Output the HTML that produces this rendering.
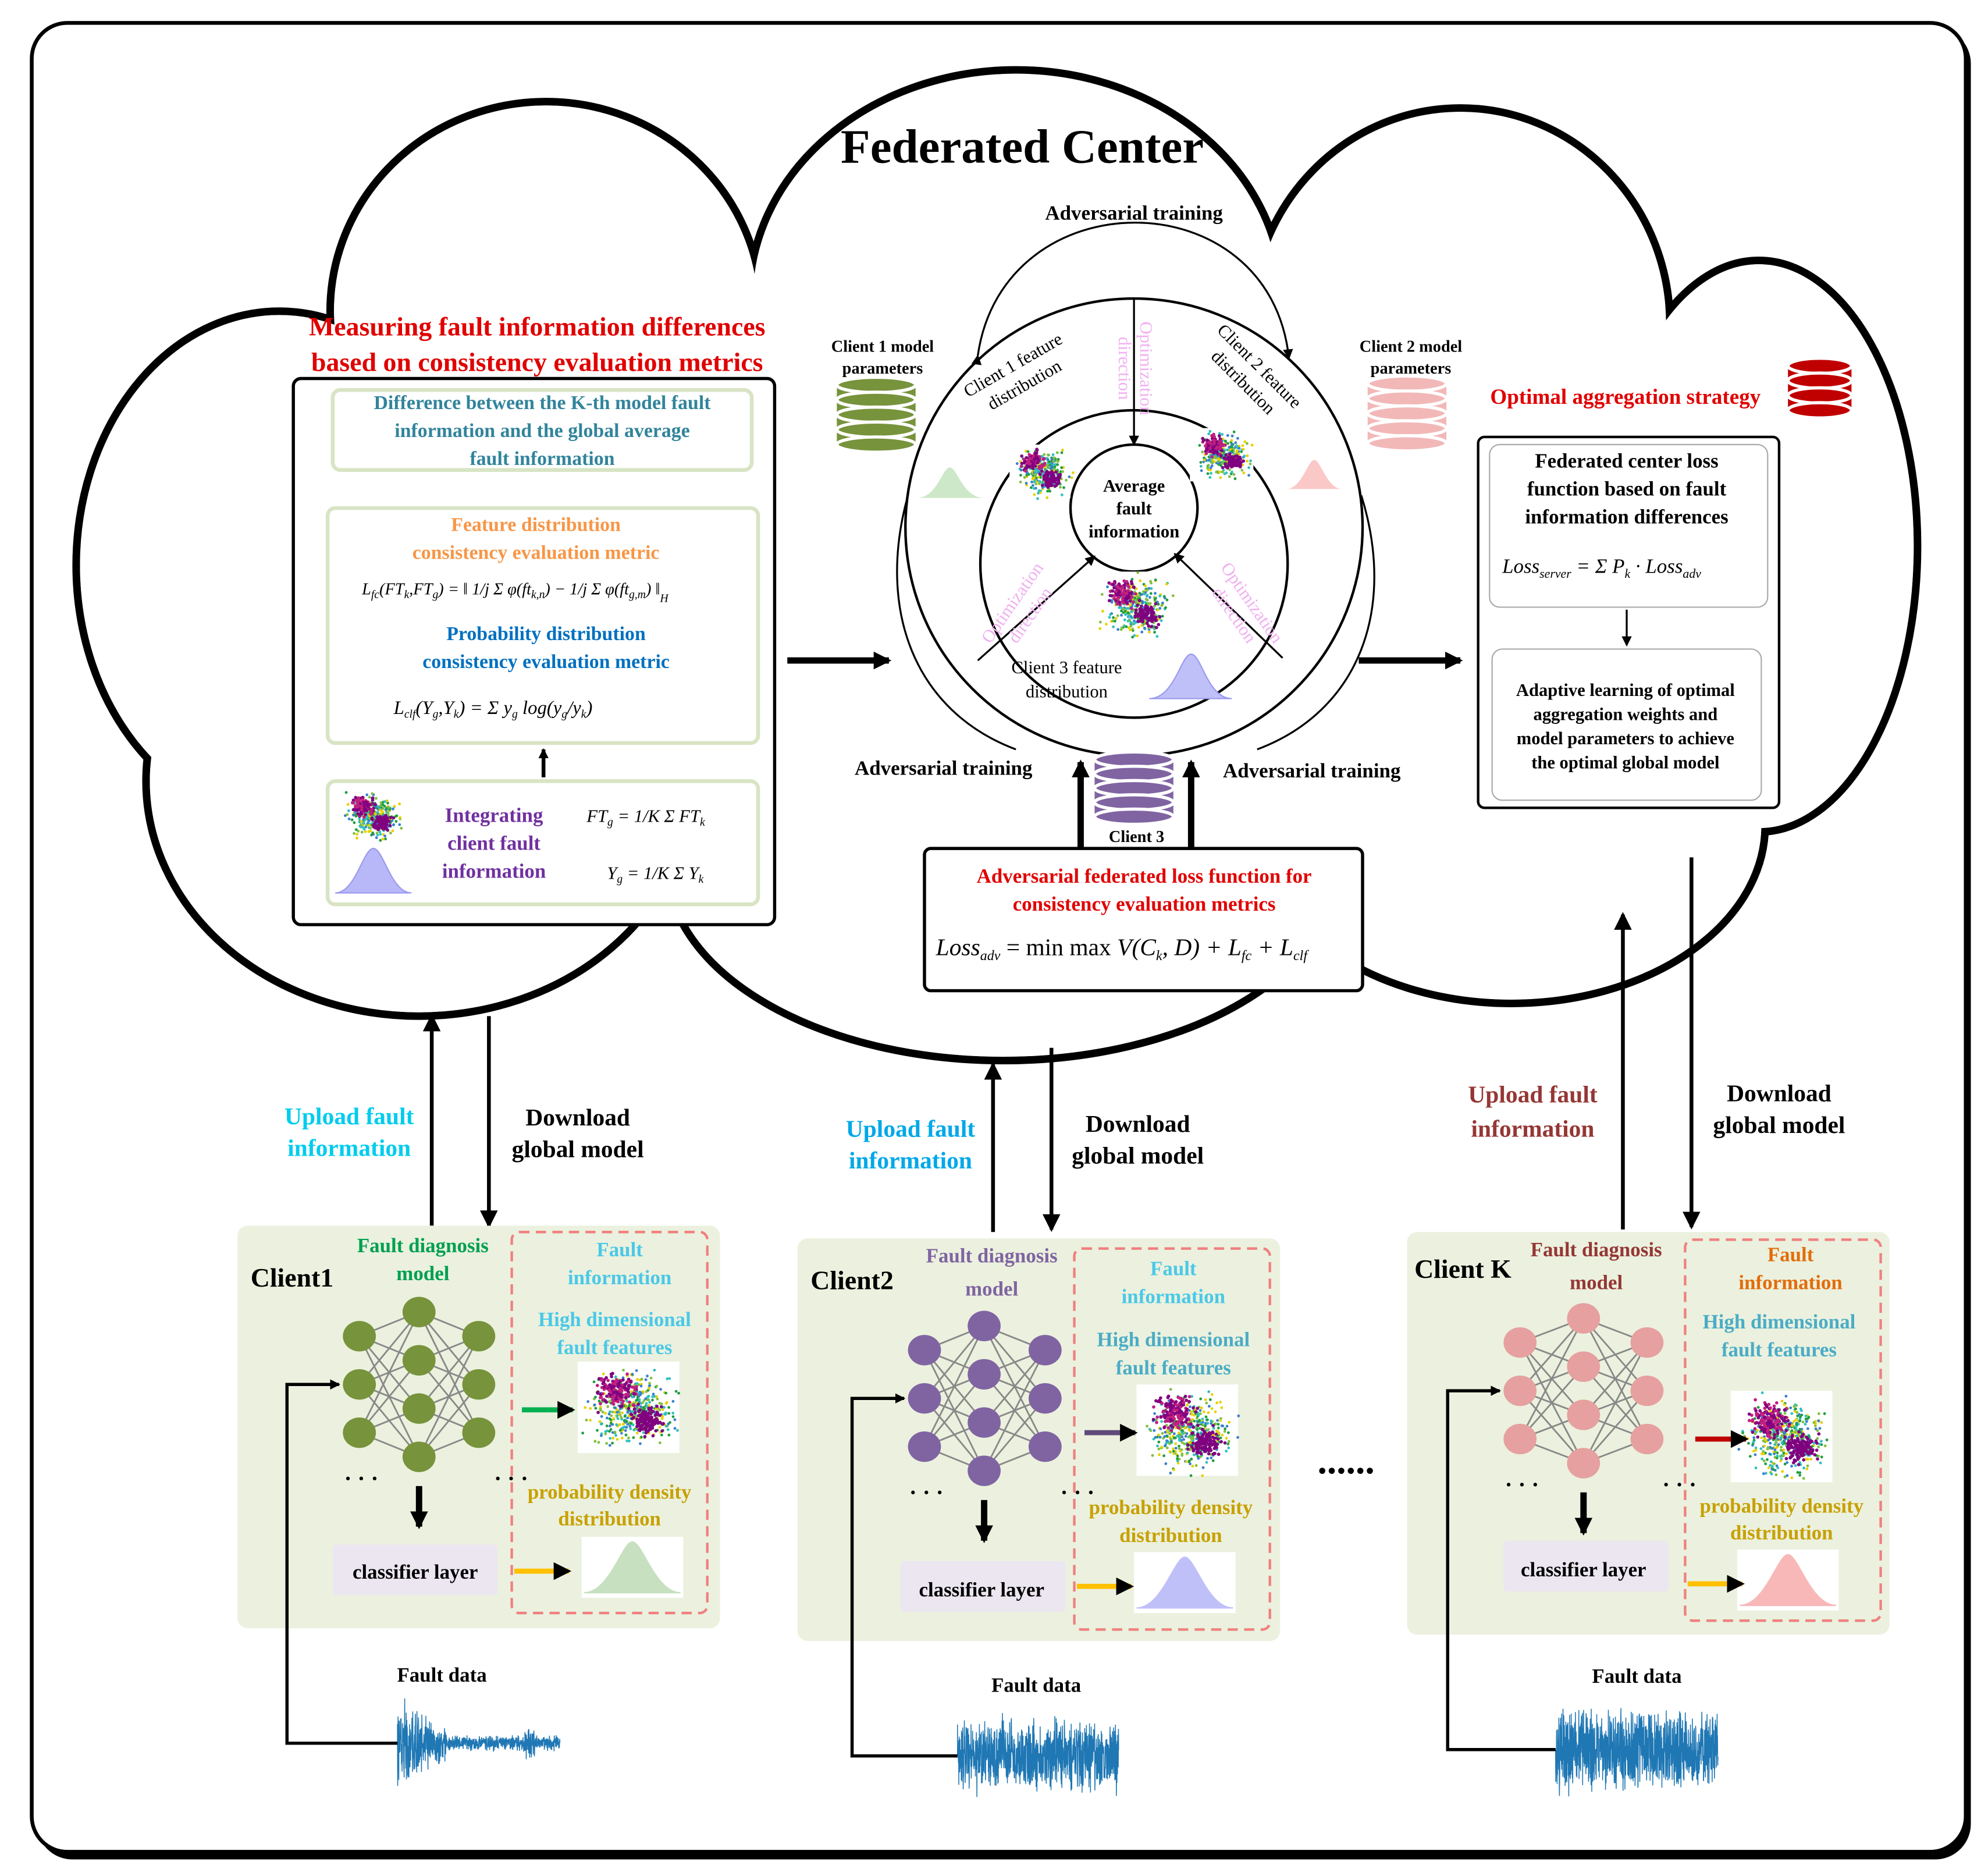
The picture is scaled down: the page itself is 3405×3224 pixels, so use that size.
<!DOCTYPE html>
<html><head><meta charset="utf-8">
<style>
html,body{margin:0;padding:0;background:#fff}
svg{display:block}
text{font-family:"Liberation Serif",serif;font-weight:bold}
.it{font-style:italic;font-weight:normal}
.n{font-weight:normal}
</style></head>
<body>
<svg id="s" width="3405" height="3224" viewBox="0 0 1560 1477" xmlns="http://www.w3.org/2000/svg">
<defs>
<marker id="ah" markerWidth="8" markerHeight="8" refX="7" refY="4" orient="auto" markerUnits="userSpaceOnUse"><path d="M0,0 L8,4 L0,8 z" fill="#000"/></marker>
<marker id="ahb" markerWidth="14" markerHeight="14" refX="12" refY="7" orient="auto" markerUnits="userSpaceOnUse"><path d="M0,0 L14,7 L0,14 z" fill="#000"/></marker>
</defs>
<rect x="29" y="22" width="1523" height="1442" rx="28" fill="#000"/>
<rect x="25" y="18" width="1523" height="1440" rx="28" fill="#fff" stroke="#000" stroke-width="3"/>

<g id="cloud"></g>

<text x="805" y="128" font-size="38" text-anchor="middle">Federated Center</text>

<text x="423" y="264" font-size="21" fill="#e00000" text-anchor="middle">Measuring fault information differences</text>
<text x="423" y="292" font-size="21" fill="#e00000" text-anchor="middle">based on consistency evaluation metrics</text>
<rect x="231" y="298" width="379" height="430" rx="6" fill="#fff" stroke="#000" stroke-width="2.5"/>
<rect x="262" y="307" width="330" height="63" rx="6" fill="#fff" stroke="#d8e4c4" stroke-width="3"/>
<text font-size="15.5" fill="#31849b" text-anchor="middle"><tspan x="427" y="322">Difference between the K-th model fault</tspan><tspan x="427" y="344">information and the global average</tspan><tspan x="427" y="366">fault information</tspan></text>
<rect x="258" y="400" width="339" height="185" rx="6" fill="#fff" stroke="#d8e4c4" stroke-width="3"/>
<text font-size="15.5" fill="#f79646" text-anchor="middle"><tspan x="422" y="418">Feature distribution</tspan><tspan x="422" y="440">consistency evaluation metric</tspan></text>
<text x="285" y="468" font-size="13" class="it">L<tspan font-size="9" dy="3">fc</tspan><tspan dy="-3">(FT</tspan><tspan font-size="9" dy="3">k</tspan><tspan dy="-3">,FT</tspan><tspan font-size="9" dy="3">g</tspan><tspan dy="-3">) = ‖ 1/j Σ φ(ft</tspan><tspan font-size="9" dy="3">k,n</tspan><tspan dy="-3">) − 1/j Σ φ(ft</tspan><tspan font-size="9" dy="3">g,m</tspan><tspan dy="-3">) ‖</tspan><tspan font-size="9" dy="6">H</tspan></text>
<text font-size="15.5" fill="#0070c0" text-anchor="middle"><tspan x="430" y="504">Probability distribution</tspan><tspan x="430" y="526">consistency evaluation metric</tspan></text>
<text x="310" y="562" font-size="15" class="it">L<tspan font-size="9" dy="3">clf</tspan><tspan dy="-3">(Y</tspan><tspan font-size="9" dy="3">g</tspan><tspan dy="-3">,Y</tspan><tspan font-size="9" dy="3">k</tspan><tspan dy="-3">) = Σ y</tspan><tspan font-size="9" dy="3">g</tspan><tspan dy="-3"> log(y</tspan><tspan font-size="9" dy="3">g</tspan><tspan dy="-3">/y</tspan><tspan font-size="9" dy="3">k</tspan><tspan dy="-3">)</tspan></text>
<line x1="428" y1="612" x2="428" y2="590" stroke="#000" stroke-width="3" marker-end="url(#ah)"/>
<rect x="258" y="615" width="339" height="97" rx="6" fill="#fff" stroke="#d8e4c4" stroke-width="3"/>
<text font-size="16" fill="#7030a0" text-anchor="middle"><tspan x="389" y="647">Integrating</tspan><tspan x="389" y="669">client fault</tspan><tspan x="389" y="691">information</tspan></text>
<text x="462" y="647" font-size="14" class="it">FT<tspan font-size="9" dy="3">g</tspan><tspan dy="-3"> = 1/K Σ FT</tspan><tspan font-size="9" dy="3">k</tspan></text>
<text x="478" y="692" font-size="14" class="it">Y<tspan font-size="9" dy="3">g</tspan><tspan dy="-3"> = 1/K Σ Y</tspan><tspan font-size="9" dy="3">k</tspan></text>
<g id="sc0"></g>
<path d="M264,703 C280,703 286,668 294,668 C302,668 308,703 324,703 Z" fill="#b8b8f8" stroke="#9a9af0"/>

<text x="893" y="173" font-size="16" text-anchor="middle">Adversarial training</text>
<path d="M770,280 C790,140 1000,140 1015,282" fill="none" stroke="#000" stroke-width="1.5" marker-start="url(#ah)" marker-end="url(#ah)"/>
<circle cx="893" cy="415" r="180" fill="none" stroke="#000" stroke-width="2"/>
<path d="M715,390 C690,480 720,560 800,590" fill="none" stroke="#000" stroke-width="1.5"/>
<path d="M1072,390 C1100,480 1070,560 990,590" fill="none" stroke="#000" stroke-width="1.5"/>
<circle cx="893" cy="444" r="121" fill="none" stroke="#000" stroke-width="2"/>
<circle cx="893" cy="400" r="50" fill="#fff" stroke="#000" stroke-width="2"/>
<text font-size="14" text-anchor="middle"><tspan x="893" y="387">Average</tspan><tspan x="893" y="405">fault</tspan><tspan x="893" y="423">information</tspan></text>
<line x1="893" y1="235" x2="893" y2="350" stroke="#000" stroke-width="1.5" marker-end="url(#ah)"/>
<line x1="770" y1="520" x2="862" y2="438" stroke="#000" stroke-width="1.5" marker-end="url(#ah)"/>
<line x1="1010" y1="518" x2="925" y2="436" stroke="#000" stroke-width="1.5" marker-end="url(#ah)"/>
<text font-size="14" class="n" text-anchor="middle" transform="rotate(-30 805 300)"><tspan x="805" y="290">Client 1 feature</tspan><tspan x="805" y="308">distribution</tspan></text>
<text font-size="14" class="n" text-anchor="middle" transform="rotate(45 985 295)"><tspan x="985" y="290">Client 2 feature</tspan><tspan x="985" y="308">distribution</tspan></text>
<text font-size="14" class="n" text-anchor="middle"><tspan x="840" y="530">Client 3 feature</tspan><tspan x="840" y="549">distribution</tspan></text>
<text font-size="14" class="n" fill="#f0b0f0" text-anchor="middle" transform="rotate(90 893 290)"><tspan x="893" y="285">Optimization</tspan><tspan x="893" y="302">direction</tspan></text>
<text font-size="14" class="n" fill="#f0b0f0" text-anchor="middle" transform="rotate(-55 805 480)"><tspan x="805" y="475">Optimization</tspan><tspan x="805" y="492">direction</tspan></text>
<text font-size="14" class="n" fill="#f0b0f0" text-anchor="middle" transform="rotate(55 978 480)"><tspan x="978" y="475">Optimization</tspan><tspan x="978" y="492">direction</tspan></text>
<g id="scC"></g>
<path d="M722,392 C738,392 742,368 748,368 C754,368 758,392 775,392 Z" fill="#cde8c8"/>
<path d="M1013,385 C1025,385 1030,362 1035,362 C1040,362 1045,385 1057,385 Z" fill="#fbc8c8"/>
<path d="M905,550 C925,550 930,515 938,515 C946,515 951,550 970,550 Z" fill="#c0c0f8" stroke="#9a9af0"/>

<g id="cyl"></g>
<text x="695" y="277" font-size="13" text-anchor="middle">Client 1 model</text>
<text x="695" y="294" font-size="13" text-anchor="middle">parameters</text>
<text x="1111" y="277" font-size="13" text-anchor="middle">Client 2 model</text>
<text x="1111" y="294" font-size="13" text-anchor="middle">parameters</text>
<text x="1280" y="318" font-size="17" fill="#e00000" text-anchor="middle">Optimal aggregation strategy</text>
<text x="895" y="663" font-size="13" text-anchor="middle">Client 3</text>

<line x1="620" y1="520" x2="700" y2="520" stroke="#000" stroke-width="5" marker-end="url(#ahb)"/>
<line x1="1070" y1="520" x2="1150" y2="520" stroke="#000" stroke-width="5" marker-end="url(#ahb)"/>
<line x1="851" y1="668" x2="851" y2="600" stroke="#000" stroke-width="5" marker-end="url(#ahb)"/>
<line x1="938" y1="668" x2="938" y2="600" stroke="#000" stroke-width="5" marker-end="url(#ahb)"/>
<text x="743" y="610" font-size="16" text-anchor="middle">Adversarial training</text>
<text x="1033" y="612" font-size="16" text-anchor="middle">Adversarial training</text>

<rect x="728" y="668" width="345" height="112" rx="5" fill="#fff" stroke="#000" stroke-width="2.5"/>
<text font-size="16" fill="#e00000" text-anchor="middle"><tspan x="901" y="695">Adversarial federated loss function for</tspan><tspan x="901" y="717">consistency evaluation metrics</tspan></text>
<text x="737" y="752" font-size="19" class="it">Loss<tspan font-size="11" dy="4">adv</tspan><tspan dy="-4" class="n" font-style="normal"> = min max </tspan><tspan>V(C</tspan><tspan font-size="11" dy="4">k</tspan><tspan dy="-4">, D) + L</tspan><tspan font-size="11" dy="4">fc</tspan><tspan dy="-4"> + L</tspan><tspan font-size="11" dy="4">clf</tspan></text>

<rect x="1164" y="344" width="237" height="292" rx="5" fill="#fff" stroke="#000" stroke-width="2"/>
<rect x="1173" y="350" width="219" height="128" rx="8" fill="#fff" stroke="#aaa" stroke-width="1"/>
<text font-size="16" text-anchor="middle"><tspan x="1281" y="368">Federated center loss</tspan><tspan x="1281" y="390">function based on fault</tspan><tspan x="1281" y="412">information differences</tspan></text>
<text x="1183" y="451" font-size="16" class="it">Loss<tspan font-size="10" dy="4">server</tspan><tspan dy="-4"> = Σ P</tspan><tspan font-size="10" dy="4">k</tspan><tspan dy="-4"> · Loss</tspan><tspan font-size="10" dy="4">adv</tspan></text>
<line x1="1281" y1="480" x2="1281" y2="508" stroke="#000" stroke-width="1.5" marker-end="url(#ah)"/>
<rect x="1175" y="511" width="212" height="119" rx="8" fill="#fff" stroke="#aaa" stroke-width="1"/>
<text font-size="14" text-anchor="middle"><tspan x="1280" y="548">Adaptive learning of optimal</tspan><tspan x="1280" y="567">aggregation weights and</tspan><tspan x="1280" y="586">model parameters to achieve</tspan><tspan x="1280" y="605">the optimal global model</tspan></text>

<g stroke="#000" stroke-width="3" fill="none">
<line x1="340" y1="965" x2="340" y2="800" marker-end="url(#ahb)"/>
<line x1="385" y1="800" x2="385" y2="965" marker-end="url(#ahb)"/>
<line x1="782" y1="970" x2="782" y2="838" marker-end="url(#ahb)"/>
<line x1="828" y1="825" x2="828" y2="968" marker-end="url(#ahb)"/>
<line x1="1278" y1="968" x2="1278" y2="720" marker-end="url(#ahb)"/>
<line x1="1332" y1="675" x2="1332" y2="966" marker-end="url(#ahb)"/>
</g>
<text font-size="19" fill="#00ccee" text-anchor="middle"><tspan x="275" y="885">Upload fault</tspan><tspan x="275" y="910">information</tspan></text>
<text font-size="19" text-anchor="middle"><tspan x="455" y="886">Download</tspan><tspan x="455" y="911">global model</tspan></text>
<text font-size="19" fill="#00a8e8" text-anchor="middle"><tspan x="717" y="895">Upload fault</tspan><tspan x="717" y="920">information</tspan></text>
<text font-size="19" text-anchor="middle"><tspan x="896" y="891">Download</tspan><tspan x="896" y="916">global model</tspan></text>
<text font-size="19" fill="#953735" text-anchor="middle"><tspan x="1207" y="868">Upload fault</tspan><tspan x="1207" y="895">information</tspan></text>
<text font-size="19" text-anchor="middle"><tspan x="1401" y="867">Download</tspan><tspan x="1401" y="892">global model</tspan></text>
<text x="1060" y="1160" font-size="30" text-anchor="middle">......</text>

<g id="clients"></g>
<text x="230" y="1013" font-size="21" text-anchor="middle">Client1</text>
<text x="671" y="1015" font-size="21" text-anchor="middle">Client2</text>
<text x="1152" y="1006" font-size="21" text-anchor="middle">Client K</text>
<text font-size="16" fill="#00a050" text-anchor="middle"><tspan x="333" y="986">Fault diagnosis</tspan><tspan x="333" y="1008">model</tspan></text>
<text font-size="16" fill="#8064a2" text-anchor="middle"><tspan x="781" y="994">Fault diagnosis</tspan><tspan x="781" y="1020">model</tspan></text>
<text font-size="16" fill="#953735" text-anchor="middle"><tspan x="1257" y="989">Fault diagnosis</tspan><tspan x="1257" y="1015">model</tspan></text>
<g font-size="16" text-anchor="middle">
<text fill="#4bc8e8"><tspan x="488" y="989">Fault</tspan><tspan x="488" y="1011">information</tspan><tspan x="484" y="1044">High dimensional</tspan><tspan x="484" y="1066">fault features</tspan></text>
<text fill="#c8a000"><tspan x="480" y="1180">probability density</tspan><tspan x="480" y="1201">distribution</tspan></text>
<text fill="#4bc8e8"><tspan x="924" y="1004">Fault</tspan><tspan x="924" y="1026">information</tspan></text>
<text fill="#4bacc6"><tspan x="924" y="1060">High dimensional</tspan><tspan x="924" y="1082">fault features</tspan></text>
<text fill="#c8a000"><tspan x="922" y="1192">probability density</tspan><tspan x="922" y="1214">distribution</tspan></text>
<text fill="#e36c09"><tspan x="1410" y="993">Fault</tspan><tspan x="1410" y="1015">information</tspan></text>
<text fill="#4bacc6"><tspan x="1401" y="1046">High dimensional</tspan><tspan x="1401" y="1068">fault features</tspan></text>
<text fill="#c8a000"><tspan x="1403" y="1191">probability density</tspan><tspan x="1403" y="1212">distribution</tspan></text>
</g>
<text x="327" y="1243" font-size="16" text-anchor="middle">classifier layer</text>
<text x="773" y="1257" font-size="16" text-anchor="middle">classifier layer</text>
<text x="1247" y="1241" font-size="16" text-anchor="middle">classifier layer</text>
<text x="348" y="1324" font-size="16" text-anchor="middle">Fault data</text>
<text x="816" y="1332" font-size="16" text-anchor="middle">Fault data</text>
<text x="1289" y="1325" font-size="16" text-anchor="middle">Fault data</text>
</svg>
<script>
var NS="http://www.w3.org/2000/svg";
function el(p,t,a){var e=document.createElementNS(NS,t);for(var k in a)e.setAttribute(k,a[k]);p.appendChild(e);return e;}
var seed=7;function r(){seed=(seed*16807)%2147483647;return seed/2147483647;}
function g(){return (r()+r()+r()-1.5)*1.4;}
var cl=document.getElementById("cloud");
var E=[[430,245,170,165],[800,235,210,180],[1150,255,165,170],[1385,430,125,225],[1190,650,200,140],[790,680,265,155],[330,615,215,185],[220,445,160,200],[800,450,500,250]];
E.forEach(function(e){el(cl,"ellipse",{cx:e[0],cy:e[1],rx:e[2],ry:e[3],fill:"#fff",stroke:"#000","stroke-width":6});});
E.forEach(function(e){el(cl,"ellipse",{cx:e[0],cy:e[1],rx:e[2]-3,ry:e[3]-3,fill:"#fff"});});
function scatter(p,x,y,w,h,n){var cols=["#1f9e3f","#3a7fd0","#e8d000","#30c0c0","#80c040"];
 el(p,"rect",{x:x,y:y,width:w,height:h,fill:"#fff"});
 for(var i=0;i<n;i++){el(p,"circle",{cx:x+w*0.55+g()*w*0.26,cy:y+h*0.52+g()*h*0.26,r:1.1,fill:cols[i%5]});}
 for(var i=0;i<n*0.4;i++){el(p,"circle",{cx:x+w*0.38+g()*w*0.12,cy:y+h*0.32+g()*h*0.12,r:1.3,fill:i%2?"#800080":"#c02080"});}
 for(var i=0;i<n*0.3;i++){el(p,"circle",{cx:x+w*0.68+g()*w*0.1,cy:y+h*0.64+g()*h*0.1,r:1.3,fill:"#800080"});}
}
scatter(document.getElementById("sc0"),268,622,48,40,300);
var sc=document.getElementById("scC");
scatter(sc,795,350,48,42,260);scatter(sc,937,337,50,42,260);scatter(sc,862,450,60,55,320);
var cy=document.getElementById("cyl");
function cyl(x,y,w,h,fill,st,n){var rr=6;el(cy,"rect",{x:x,y:y,width:w,height:h,fill:fill});
 for(var i=0;i<=n;i++){el(cy,"ellipse",{cx:x+w/2,cy:y+i*h/n,rx:w/2,ry:rr,fill:fill,stroke:st,"stroke-width":2.5});}}
cyl(659,303,62,47,"#77933c","#fff",4);
cyl(1077,302,62,47,"#f2b8b8","#fff",4);
cyl(1408,288,50,35,"#c00000","#fff",3);
cyl(862,598,62,45,"#8064a2","#fff",4);
var C=document.getElementById("clients");
var cfg=[
 {bx:187,by:965,nx:[283,330,377],ny:1052,dx:403,dy:970,sx:455,sy:1072,px:458,py:1210,pc:"#c6e0c0",ac:"#00b050",nc:"#77933c",cx:262,cly:1216,sig:[313,1335,441,1410,1]},
 {bx:628,by:975,nx:[728,775,823],ny:1063,dx:846,dy:983,sx:895,sy:1090,px:893,py:1222,pc:"#c0c0f8",ac:"#604a7b",nc:"#8064a2",cx:709,cly:1229,sig:[754,1340,881,1425,2]},
 {bx:1108,by:970,nx:[1197,1247,1297],ny:1057,dx:1327,dy:976,sx:1363,sy:1095,px:1368,py:1220,pc:"#f8b8b8",ac:"#c00000",nc:"#e6a0a0",cx:1184,cly:1213,sig:[1225,1335,1353,1420,3]}];
cfg.forEach(function(c){
 el(C,"rect",{x:c.bx,y:c.by,width:380,height:317,rx:8,fill:"#ebf1de"});
 el(C,"rect",{x:c.dx,y:c.dy,width:154,height:300,rx:6,fill:"none",stroke:"#f08080","stroke-width":2,"stroke-dasharray":"8,5"});
 var L=[[0,38,76],[-19,19,57,95],[0,38,76]],P=[];
 L.forEach(function(col,i){P.push(col.map(function(v){return [c.nx[i],c.ny+v];}));});
 for(var i=0;i<2;i++)P[i].forEach(function(a){P[i+1].forEach(function(b){el(C,"line",{x1:a[0],y1:a[1],x2:b[0],y2:b[1],stroke:"#888","stroke-width":1.3});});});
 P.forEach(function(col){col.forEach(function(a){el(C,"ellipse",{cx:a[0],cy:a[1],rx:13,ry:12,fill:c.nc});});});
 el(C,"text",{x:c.nx[0]-12,y:c.ny+118,"font-size":18}).textContent="· · ·";
 el(C,"text",{x:c.nx[2]+12,y:c.ny+118,"font-size":18}).textContent="· · ·";
 el(C,"line",{x1:c.nx[1],y1:c.ny+118,x2:c.nx[1],y2:c.ny+150,stroke:"#000","stroke-width":5,"marker-end":"url(#ahb)"});
 el(C,"rect",{x:c.cx,y:c.cly,width:130,height:40,rx:3,fill:"#ebe6f0"});
 scatter(C,c.sx,c.sy,80,72,420);
 el(C,"line",{x1:c.dx+8,y1:c.sy+38,x2:c.dx+48,y2:c.sy+38,stroke:c.ac,"stroke-width":4,"marker-end":"url(#ahb)"});
 el(C,"rect",{x:c.px,y:c.py,width:80,height:48,fill:"#fff"});
 var m=c.px+40,b=c.py+44;el(C,"path",{d:"M"+(c.px+2)+","+b+" C"+(m-18)+","+b+" "+(m-8)+","+(c.py+4)+" "+m+","+(c.py+4)+" C"+(m+8)+","+(c.py+4)+" "+(m+18)+","+b+" "+(c.px+78)+","+b+"Z",fill:c.pc,stroke:c.pc});
 el(C,"line",{x1:c.dx+2,y1:c.py+27,x2:c.dx+45,y2:c.py+27,stroke:"#ffc000","stroke-width":4,"marker-end":"url(#ahb)"});
 var s=c.sig,mid=(s[1]+s[3])/2,d="M"+s[0]+","+mid;
 for(var x=s[0];x<=s[2];x+=0.15){var t=(x-s[0])/(s[2]-s[0]);var a;
  if(s[4]==1)a=t<0.3?34*(1-t*2.5)+6:(t>0.78&&t<0.85?18:7);else if(s[4]==2)a=28+8*r();else a=40-8*t;
  d+=" L"+x.toFixed(2)+","+(mid+(r()*2-1)*a*(0.4+0.6*r())).toFixed(1);}
 el(C,"path",{d:d,stroke:"#1f77b4","stroke-width":0.7,fill:"none"});
 var lx=c.nx[0]-57;
 el(C,"polyline",{points:(s[0])+","+mid+" "+lx+","+mid+" "+lx+","+(c.ny+38)+" "+(c.nx[0]-16)+","+(c.ny+38),fill:"none",stroke:"#000","stroke-width":2.5,"marker-end":"url(#ah)"});
});
</script>
</body></html>
